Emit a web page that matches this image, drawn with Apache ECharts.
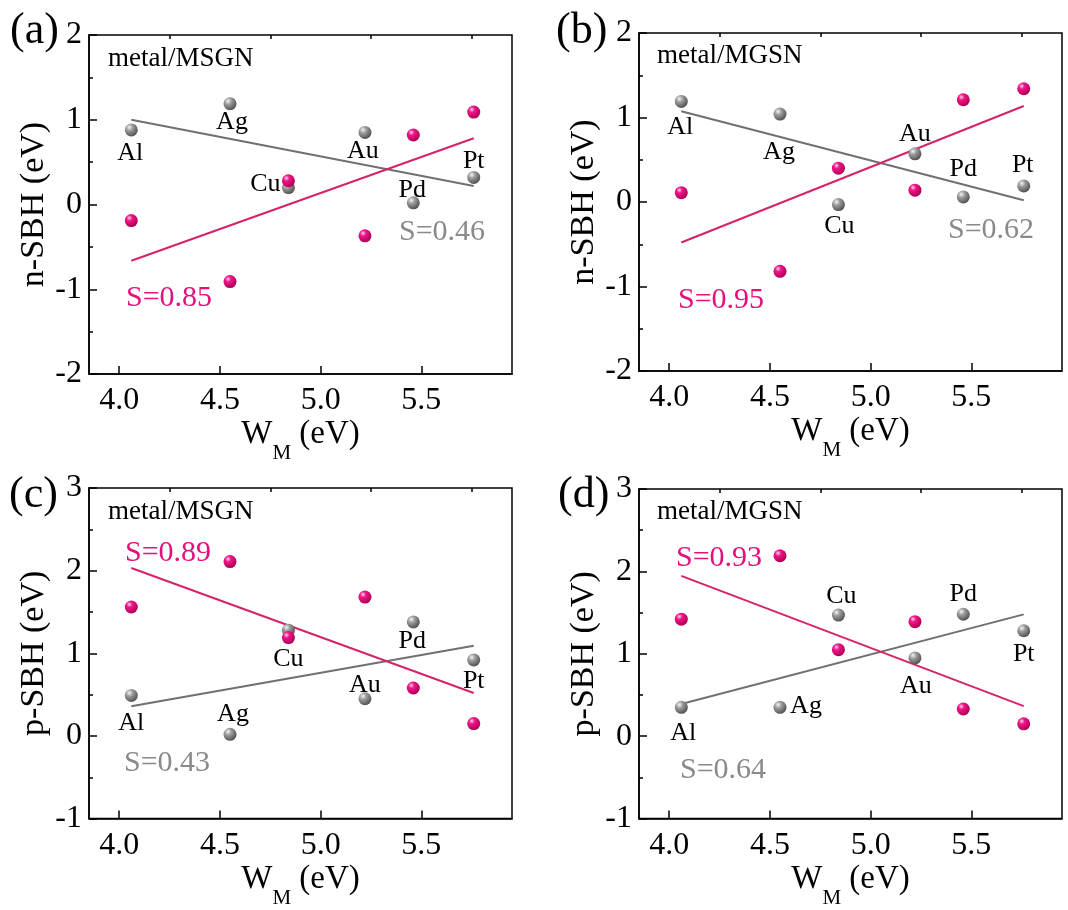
<!DOCTYPE html>
<html>
<head>
<meta charset="utf-8">
<script src="https://cdn.jsdelivr.net/npm/echarts@6/dist/echarts.min.js"></script>
<style>
  html, body { margin: 0; padding: 0; background: #fff; }
  #chart { width: 1068px; height: 910px; }
</style>
</head>
<body>
<div id="chart"></div>
<script>
// Metals and their work functions W_M (eV)
const metals = ['Al', 'Ag', 'Cu', 'Au', 'Pd', 'Pt'];
const workFunction = [4.06, 4.55, 4.84, 5.22, 5.46, 5.76];

// x-axis ticks
const xMajorTicks = [4.0, 4.5, 5.0, 5.5];
const xMinorTicks = [4.25, 4.75, 5.25, 5.75];

// (a) n-SBH, metal/MSGN
const nMSGNGray = [0.88, 1.19, 0.20, 0.85, 0.02, 0.32];
const nMSGNPink = [-0.19, -0.91, 0.28, -0.37, 0.82, 1.09];
const nMSGNSlope = [0.46, 0.85];   // S for gray, pink

// (b) n-SBH, metal/MGSN
const nMGSNGray = [1.19, 1.04, -0.03, 0.57, 0.06, 0.19];
const nMGSNPink = [0.11, -0.82, 0.40, 0.14, 1.21, 1.34];
const nMGSNSlope = [0.62, 0.95];

// (c) p-SBH, metal/MSGN
const pMSGNGray = [0.49, 0.02, 1.28, 0.45, 1.38, 0.92];
const pMSGNPink = [1.56, 2.11, 1.19, 1.68, 0.58, 0.15];
const pMSGNSlope = [0.43, 0.89];

// (d) p-SBH, metal/MGSN
const pMGSNGray = [0.35, 0.35, 1.47, 0.95, 1.48, 1.28];
const pMGSNPink = [1.42, 2.19, 1.05, 1.39, 0.33, 0.15];
const pMGSNSlope = [0.64, 0.93];

// ---- styling ----
const SERIF = "'Liberation Serif', 'Times New Roman', serif";
const PINK = '#e4107c';
const PINK_LINE = '#d42369';
const GRAY_LINE = '#707070';
const GRAY_TEXT = '#8a8a8a';

const grayBall = new echarts.graphic.RadialGradient(0.35, 0.3, 0.75, [
  { offset: 0, color: '#f4f4f4' },
  { offset: 0.35, color: '#9c9c9c' },
  { offset: 1, color: '#4c4c4c' }
]);
const pinkBall = new echarts.graphic.RadialGradient(0.35, 0.3, 0.75, [
  { offset: 0, color: '#ffd6ea' },
  { offset: 0.3, color: '#f0158a' },
  { offset: 1, color: '#a8004f' }
]);

// label offsets (dx, dy) of each metal name from its gray point
const labelOffsets = [
  [[-1, 23], [2, 19], [-23, -3], [-2, 19], [-1, -13], [0, -16]],
  [[-1, 26], [-1, 38], [1, 22], [0, -20], [0, -28], [-1, -21]],
  [[0, 28], [3, -20], [0, 29], [0, -14], [-1, 19], [0, 21]],
  [[2, 26], [26, -1], [3, -19], [1, 28], [0, -20], [0, 23]]
];

const panels = [
  { tag: '(a)', sys: 'metal/MSGN', yName: 'n-SBH (eV)', yMin: -2, yMax: 2,
    gray: nMSGNGray, pink: nMSGNPink, slope: nMSGNSlope,
    grid: { left: 89, top: 35, width: 423, height: 339 },
    tagPos: [10, 31], sysPos: [108, 59], sPinkPos: [126, 298], sGrayPos: [399, 232] },
  { tag: '(b)', sys: 'metal/MGSN', yName: 'n-SBH (eV)', yMin: -2, yMax: 2,
    gray: nMGSNGray, pink: nMGSNPink, slope: nMGSNSlope,
    grid: { left: 639, top: 33, width: 423, height: 338 },
    tagPos: [556, 31], sysPos: [657, 56], sPinkPos: [678, 300], sGrayPos: [948, 230] },
  { tag: '(c)', sys: 'metal/MSGN', yName: 'p-SBH (eV)', yMin: -1, yMax: 3,
    gray: pMSGNGray, pink: pMSGNPink, slope: pMSGNSlope,
    grid: { left: 89, top: 488, width: 423, height: 340 },
    tagPos: [9, 495], sysPos: [108, 512], sPinkPos: [125, 553], sGrayPos: [124, 763] },
  { tag: '(d)', sys: 'metal/MGSN', yName: 'p-SBH (eV)', yMin: -1, yMax: 3,
    gray: pMGSNGray, pink: pMGSNPink, slope: pMGSNSlope,
    grid: { left: 639, top: 489, width: 423, height: 339 },
    tagPos: [558, 495], sysPos: [657, 512], sPinkPos: [676, 558], sGrayPos: [680, 770] }
];

// straight fit line through the mean point with the stated slope S
function fitLine(xs, ys, s) {
  const n = xs.length;
  const mx = xs.reduce((a, b) => a + b, 0) / n;
  const my = ys.reduce((a, b) => a + b, 0) / n;
  let cov = 0;
  for (let i = 0; i < n; i++) cov += (xs[i] - mx) * (ys[i] - my);
  const k = (cov >= 0 ? 1 : -1) * s;
  const x0 = xs[0], x1 = xs[n - 1];
  return [[x0, my + k * (x0 - mx)], [x1, my + k * (x1 - mx)]];
}

const grids = [], xAxes = [], yAxes = [], series = [], graphics = [];

const tickStyle = { color: '#000', width: 1.5 };

panels.forEach((p, i) => {
  grids.push(Object.assign({ show: true, borderColor: '#000', borderWidth: 1.5,
    backgroundColor: 'transparent', containLabel: false }, p.grid));

  // major x axis with labels
  xAxes.push({
    type: 'value', gridIndex: i, min: 3.85, max: 5.95,
    splitLine: { show: false },
    axisLine: { show: true, onZero: false, lineStyle: tickStyle },
    axisTick: { show: true, inside: true, length: 8, lineStyle: tickStyle, customValues: xMajorTicks },
    axisLabel: { show: true, customValues: xMajorTicks, margin: 11,
      formatter: v => v.toFixed(1), fontFamily: SERIF, fontSize: 32, color: '#000' },
    name: '{m|W}{s|M}{m| (eV)}',
    nameLocation: 'middle', nameGap: 27,
    nameTextStyle: {
      fontFamily: SERIF, color: '#000',
      rich: {
        m: { fontFamily: SERIF, fontSize: 33, color: '#000', lineHeight: 33 },
        s: { fontFamily: SERIF, fontSize: 21, color: '#000', lineHeight: 60, verticalAlign: 'bottom' }
      }
    }
  });
  // minor x ticks
  xAxes.push({
    type: 'value', gridIndex: i, min: 3.85, max: 5.95,
    splitLine: { show: false },
    axisLine: { show: false, onZero: false },
    axisTick: { show: true, inside: true, length: 4, lineStyle: tickStyle, customValues: xMinorTicks },
    axisLabel: { show: false }
  });

  yAxes.push({
    type: 'value', gridIndex: i, min: p.yMin, max: p.yMax, interval: 1,
    splitLine: { show: false },
    axisLine: { show: true, onZero: false, lineStyle: tickStyle },
    axisTick: { show: true, inside: true, length: 8, lineStyle: tickStyle },
    minorTick: { show: true, splitNumber: 2, length: 4, lineStyle: tickStyle },
    minorSplitLine: { show: false },
    axisLabel: { margin: 7, fontFamily: SERIF, fontSize: 32, color: '#000' },
    name: p.yName, nameLocation: 'middle', nameGap: 32,
    nameTextStyle: { fontFamily: SERIF, fontSize: 34, color: '#000' }
  });

  const xi = i * 2;
  series.push({
    type: 'line', xAxisIndex: xi, yAxisIndex: i, z: 2,
    data: fitLine(workFunction, p.gray, p.slope[0]),
    symbol: 'none', lineStyle: { color: GRAY_LINE, width: 2 }, silent: true
  });
  series.push({
    type: 'line', xAxisIndex: xi, yAxisIndex: i, z: 2,
    data: fitLine(workFunction, p.pink, p.slope[1]),
    symbol: 'none', lineStyle: { color: PINK_LINE, width: 2 }, silent: true
  });
  series.push({
    type: 'scatter', xAxisIndex: xi, yAxisIndex: i, z: 3,
    symbolSize: 13,
    itemStyle: { color: grayBall, opacity: 1 },
    data: workFunction.map((x, k) => ({
      value: [x, p.gray[k]],
      label: {
        show: true, formatter: metals[k], position: 'inside',
        offset: labelOffsets[i][k],
        fontFamily: SERIF, fontSize: 26, color: '#000'
      }
    }))
  });
  series.push({
    type: 'scatter', xAxisIndex: xi, yAxisIndex: i, z: 4,
    symbolSize: 13,
    itemStyle: { color: pinkBall, opacity: 1 },
    data: workFunction.map((x, k) => [x, p.pink[k]])
  });

  const txt = (pos, text, font, fill) => ({
    type: 'text', x: pos[0], y: pos[1], z: 10, silent: true,
    style: { text, font, fill, textAlign: 'left', textVerticalAlign: 'middle', verticalAlign: 'middle' }
  });
  graphics.push(txt(p.tagPos, p.tag, '44px ' + SERIF, '#000'));
  graphics.push(txt(p.sysPos, p.sys, '27px ' + SERIF, '#000'));
  graphics.push(txt(p.sPinkPos, 'S=' + p.slope[1].toFixed(2), '30px ' + SERIF, PINK));
  graphics.push(txt(p.sGrayPos, 'S=' + p.slope[0].toFixed(2), '30px ' + SERIF, GRAY_TEXT));
});

const chart = echarts.init(document.getElementById('chart'), null, { renderer: 'canvas' });
chart.setOption({
  backgroundColor: '#fff',
  animation: false,
  grid: grids,
  xAxis: xAxes,
  yAxis: yAxes,
  series: series,
  graphic: graphics
});
</script>
</body>
</html>
